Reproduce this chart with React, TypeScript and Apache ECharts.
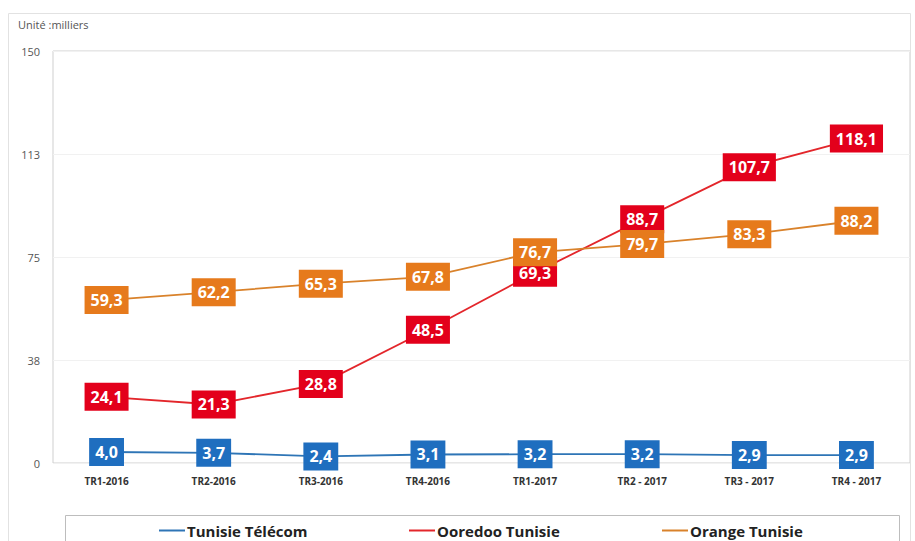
import React, { useEffect, useRef } from "react";
import * as echarts from "echarts";

const categories = ["TR1-2016", "TR2-2016", "TR3-2016", "TR4-2016", "TR1-2017", "TR2 - 2017", "TR3 - 2017", "TR4 - 2017"];
const telecom = [4.0, 3.7, 2.4, 3.1, 3.2, 3.2, 2.9, 2.9];
const ooredoo = [24.1, 21.3, 28.8, 48.5, 69.3, 88.7, 107.7, 118.1];
const orange = [59.3, 62.2, 65.3, 67.8, 76.7, 79.7, 83.3, 88.2];
const seriesNames = ["Tunisie Télécom", "Ooredoo Tunisie", "Orange Tunisie"];
const unitLabel = "Unité :milliers";

const FONT = "'Open Sans', 'DejaVu Sans', sans-serif";

export default function App() {
  const ref = useRef<HTMLDivElement>(null);
  useEffect(() => {
    if (!ref.current) return;
    const chart = echarts.init(ref.current, null, { renderer: "svg" });
    const mk = (name: string, data: number[], lineColor: string, boxColor: string) => ({
      name,
      type: "line",
      data,
      symbol: "circle",
      symbolSize: 1,
      lineStyle: { color: lineColor, width: 1.8 },
      itemStyle: { color: lineColor },
      label: {
        show: true,
        position: "inside",
        formatter: (p: any) => Number(p.value).toFixed(1).replace(".", ","),
        backgroundColor: boxColor,
        color: "#ffffff",
        fontWeight: "bold",
        fontSize: 16,
        fontFamily: FONT,
        lineHeight: 16,
        padding: [6, 6, 6, 6],
      },
    });
    const legendCommon = {
      top: 518,
      icon: "rect",
      itemWidth: 26,
      itemHeight: 2,
      itemGap: 2,
      textStyle: { fontSize: 15, fontWeight: "bold", color: "#222", fontFamily: FONT, padding: [0, 0, 0, -3] },
      selectedMode: false,
    };
    chart.setOption({
      animation: false,
      backgroundColor: "#ffffff",
      graphic: [
        { type: "rect", shape: { x: 8.5, y: 13.5, width: 902, height: 540 }, style: { fill: "none", stroke: "#e2e2e2", lineWidth: 1 } },
        { type: "rect", shape: { x: 65.5, y: 515.5, width: 834, height: 40 }, style: { fill: "none", stroke: "#bdbdbd", lineWidth: 1 } },
        { type: "text", left: 18, top: 19, style: { text: unitLabel, fontSize: 11, fill: "#555", fontFamily: FONT } },
      ],
      grid: { left: 53, top: 51, right: 5, bottom: 78, show: true, borderColor: "#cfcfcf", borderWidth: 1 },
      legend: [
        { ...legendCommon, left: 154, data: [seriesNames[0]] },
        { ...legendCommon, left: 404, data: [seriesNames[1]] },
        { ...legendCommon, left: 657, data: [seriesNames[2]] },
      ],
      xAxis: {
        type: "category",
        data: categories,
        boundaryGap: true,
        axisLine: { show: false },
        axisTick: { show: false },
        axisLabel: { fontSize: 10, fontWeight: "bold", color: "#333", fontFamily: FONT, margin: 13 },
      },
      yAxis: {
        type: "value",
        min: 0,
        max: 150,
        interval: 37.5,
        axisLine: { show: false },
        axisTick: { show: false },
        splitLine: { lineStyle: { color: "#f1f1f1" } },
        axisLabel: { fontSize: 11, color: "#555", fontFamily: FONT, margin: 13, formatter: (v: number) => String(Math.round(v)) },
      },
      series: [
        mk(seriesNames[0], telecom, "#2E75B6", "#1F6EBF"),
        mk(seriesNames[1], ooredoo, "#E3262B", "#E3001B"),
        mk(seriesNames[2], orange, "#D9822B", "#E67A1C"),
      ],
    });
    return () => chart.dispose();
  }, []);
  return <div ref={ref} style={{ width: 915, height: 541, position: "absolute", left: 0, top: 0 }} />;
}
